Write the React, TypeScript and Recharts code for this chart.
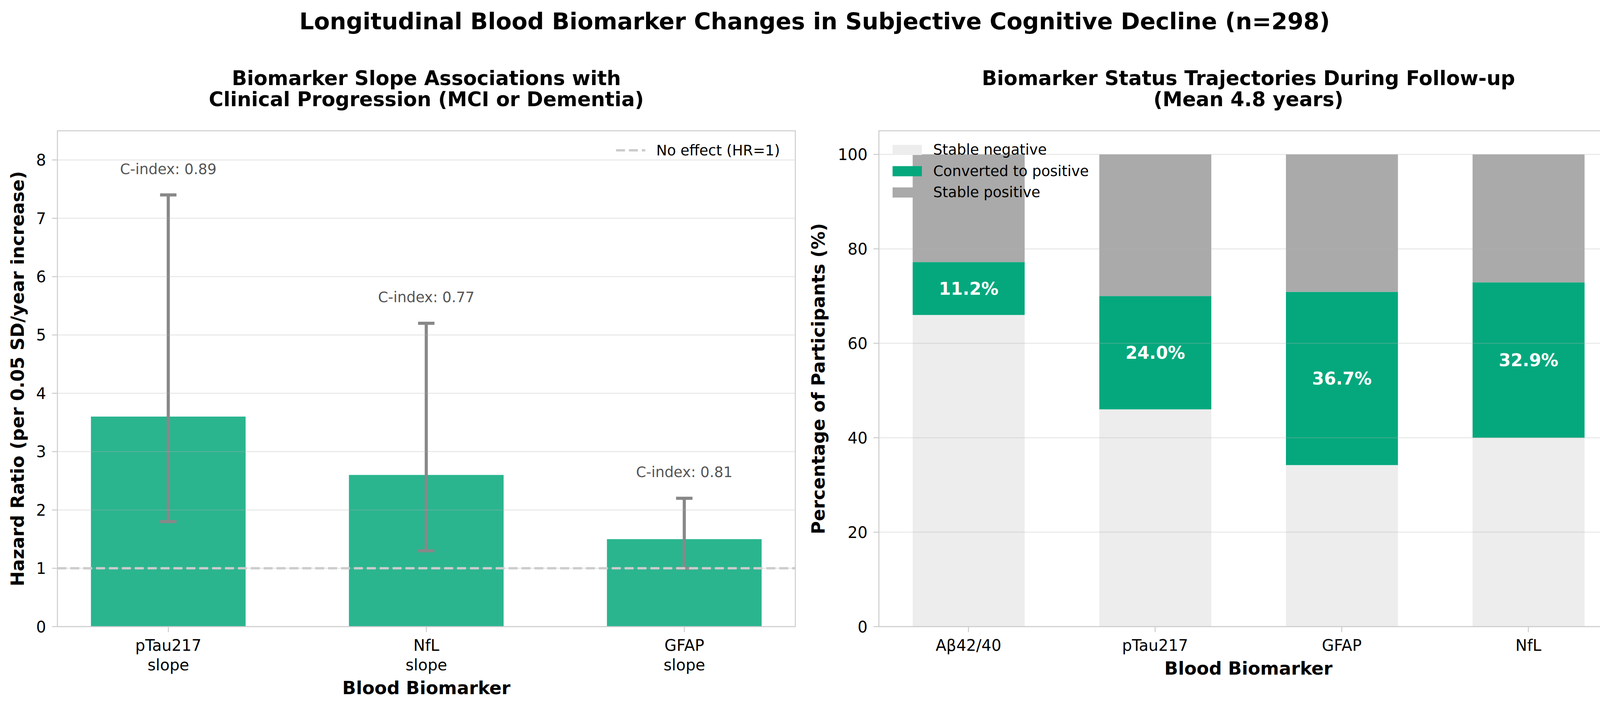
import React from 'react';
import { BarChart, Bar, XAxis, YAxis, ErrorBar, LabelList, ReferenceLine } from 'recharts';

// left panel: hazard ratios per biomarker slope
const slopeMarkers = ['pTau217\nslope', 'NfL\nslope', 'GFAP\nslope'];
const hazardRatio = [3.6, 2.6, 1.5];
const ciLow = [1.8, 1.3, 1.0];
const ciHigh = [7.4, 5.2, 2.2];
const cIndex = [0.89, 0.77, 0.81];
const hrTicks = [0, 1, 2, 3, 4, 5, 6, 7, 8];

// right panel: status trajectories (%)
const statusMarkers = ['Aβ42/40', 'pTau217', 'GFAP', 'NfL'];
const stableNegative = [66.0, 46.0, 34.2, 40.0];
const convertedPositive = [11.2, 24.0, 36.7, 32.9];
const stablePositive = [22.8, 30.0, 29.1, 27.1];
const pctTicks = [0, 20, 40, 60, 80, 100];

const legendNames = ['Stable negative', 'Converted to positive', 'Stable positive'];
const statusColors = ['#EDEDED', '#05A87D', '#AAAAAA'];

const FONT = '"DejaVu Sans", sans-serif';
const TICK_LINE = { stroke: '#cccccc', strokeWidth: 2.5 };
const GRID = { stroke: '#b0b0b0', strokeOpacity: 0.3, strokeWidth: 2.5 };

const slopeRows = slopeMarkers.map((name, i) => ({
  x: i,
  name,
  hr: hazardRatio[i],
  ci: [hazardRatio[i] - ciLow[i], ciHigh[i] - hazardRatio[i]],
  cindex: cIndex[i],
}));

const statusRows = statusMarkers.map((name, i) => ({
  x: i,
  name,
  neg: stableNegative[i],
  conv: convertedPositive[i],
  stpos: stablePositive[i],
}));

const ValueTick = (props: any) => {
  const { x, y, payload } = props;
  return (
    <text x={x} y={y} dy={14.5} textAnchor="end" fontSize={40} fill="#000" fontFamily={FONT}>
      {payload.value}
    </text>
  );
};

const SlopeTick = (props: any) => {
  const { x, y, payload } = props;
  const lines = slopeMarkers[payload.value].split('\n');
  return (
    <text textAnchor="middle" fontSize={40} fill="#000" fontFamily={FONT}>
      {lines.map((l, k) => (
        <tspan key={k} x={x} y={y + 48 + k * 50}>{l}</tspan>
      ))}
    </text>
  );
};

const StatusTick = (props: any) => {
  const { x, y, payload } = props;
  return (
    <text x={x} y={y + 48} textAnchor="middle" fontSize={40} fill="#000" fontFamily={FONT}>
      {statusMarkers[payload.value]}
    </text>
  );
};

const renderCIndex = (props: any) => {
  const vb = props.viewBox || props;
  const i = props.index;
  const perUnit = vb.height / hazardRatio[i];
  const base = vb.y + vb.height;
  const ty = base - (ciHigh[i] + 0.3) * perUnit;
  return (
    <text key={`ci-${i}`} x={vb.x + vb.width / 2} y={ty - 9} textAnchor="middle" fontSize={37} fill="#555555" fontFamily={FONT}>
      {`C-index: ${cIndex[i].toFixed(2)}`}
    </text>
  );
};

const renderPct = (props: any) => {
  const vb = props.viewBox || props;
  const i = props.index;
  return (
    <text key={`p-${i}`} x={vb.x + vb.width / 2} y={vb.y + vb.height / 2 + 16} textAnchor="middle" fontSize={44} fontWeight="bold" fill="#ffffff" fontFamily={FONT}>
      {`${convertedPositive[i].toFixed(1)}%`}
    </text>
  );
};

export default function App() {
  return (
    <div style={{ position: 'absolute', left: 0, top: 0, width: 4171, height: 1816, background: '#fff', fontFamily: FONT }}>
      <div style={{ position: 'absolute', left: 0, top: 0 }}>
        <BarChart width={2080} height={1816} data={slopeRows} margin={{ top: 335, right: 44, bottom: 61, left: 0 }}>
          <XAxis
            type="number"
            dataKey="x"
            domain={[-0.43, 2.43]}
            ticks={[0, 1, 2]}
            interval={0}
            allowDataOverflow
            axisLine={false}
            tickLine={TICK_LINE}
            tickSize={14}
            tickMargin={0}
            height={150}
            tick={SlopeTick}
          />
          <YAxis
            type="number"
            domain={[0, 8.5]}
            ticks={hrTicks}
            interval={0}
            allowDataOverflow
            width={147}
            axisLine={false}
            tickLine={TICK_LINE}
            tickSize={14}
            tickMargin={15}
            tick={ValueTick}
          />
          <Bar dataKey="hr" fill="#2AB58F" barSize={396} isAnimationActive={false}>
            <ErrorBar dataKey="ci" direction="y" width={21} strokeWidth={8} stroke="#888888" isAnimationActive={false} />
            <LabelList dataKey="cindex" content={renderCIndex} />
          </Bar>
          {hrTicks.map((t) => (
            <ReferenceLine key={t} y={t} {...GRID} />
          ))}
          <ReferenceLine y={1} stroke="#cccccc" strokeWidth={6} strokeDasharray="23 10" />
        </BarChart>
      </div>

      <div style={{ position: 'absolute', left: 2080, top: 0 }}>
        <BarChart width={2091} height={1816} data={statusRows} margin={{ top: 335, right: 29, bottom: 61, left: 0 }}>
          <XAxis
            type="number"
            dataKey="x"
            domain={[-0.48, 3.48]}
            ticks={[0, 1, 2, 3]}
            interval={0}
            allowDataOverflow
            axisLine={false}
            tickLine={TICK_LINE}
            tickSize={14}
            tickMargin={0}
            height={150}
            tick={StatusTick}
          />
          <YAxis
            type="number"
            domain={[0, 105]}
            ticks={pctTicks}
            interval={0}
            allowDataOverflow
            width={170}
            axisLine={false}
            tickLine={TICK_LINE}
            tickSize={14}
            tickMargin={15}
            tick={ValueTick}
          />
          <Bar dataKey="neg" stackId="s" fill={statusColors[0]} barSize={286.7} isAnimationActive={false} />
          <Bar dataKey="conv" stackId="s" fill={statusColors[1]} barSize={286.7} isAnimationActive={false}>
            <LabelList dataKey="conv" content={renderPct} />
          </Bar>
          <Bar dataKey="stpos" stackId="s" fill={statusColors[2]} barSize={286.7} isAnimationActive={false} />
          {pctTicks.map((t) => (
            <ReferenceLine key={t} y={t} {...GRID} />
          ))}
        </BarChart>
      </div>

      <svg width={4171} height={1816} style={{ position: 'absolute', left: 0, top: 0, pointerEvents: 'none' }} fontFamily={FONT}>
        <text x={2085.5} y={75} textAnchor="middle" fontSize={59} fontWeight="bold" fill="#000">
          Longitudinal Blood Biomarker Changes in Subjective Cognitive Decline (n=298)
        </text>

        <text x={1091.5} textAnchor="middle" fontSize={51} fontWeight="bold" fill="#000">
          <tspan x={1091.5} y={218}>Biomarker Slope Associations with</tspan>
          <tspan x={1091.5} y={272}>Clinical Progression (MCI or Dementia)</tspan>
        </text>
        <text x={3196} textAnchor="middle" fontSize={51} fontWeight="bold" fill="#000">
          <tspan x={3196} y={218}>Biomarker Status Trajectories During Follow-up</tspan>
          <tspan x={3196} y={272}>(Mean 4.8 years)</tspan>
        </text>

        <rect x={147} y={335} width={1889} height={1270} fill="none" stroke="#cccccc" strokeWidth={2.5} />
        <rect x={2250} y={335} width={1892} height={1270} fill="none" stroke="#cccccc" strokeWidth={2.5} />

        <text x={1091.5} y={1778} textAnchor="middle" fontSize={46} fontWeight="bold" fill="#000">Blood Biomarker</text>
        <text x={3196} y={1728} textAnchor="middle" fontSize={46} fontWeight="bold" fill="#000">Blood Biomarker</text>

        <text transform="translate(61,970) rotate(-90)" textAnchor="middle" fontSize={46} fontWeight="bold" fill="#000">
          Hazard Ratio (per 0.05 SD/year increase)
        </text>
        <text transform="translate(2111,970) rotate(-90)" textAnchor="middle" fontSize={46} fontWeight="bold" fill="#000">
          Percentage of Participants (%)
        </text>

        <line x1={1577} y1={385} x2={1652} y2={385} stroke="#cccccc" strokeWidth={6} strokeDasharray="23 10" />
        <text x={1680} y={398} fontSize={37} fill="#000">No effect (HR=1)</text>

        {legendNames.map((n, i) => (
          <g key={n}>
            <rect x={2285} y={371 + i * 54.5} width={75} height={26} fill={statusColors[i]} />
            <text x={2389} y={396 + i * 54.5} fontSize={37} fill="#000">{n}</text>
          </g>
        ))}
      </svg>
    </div>
  );
}
